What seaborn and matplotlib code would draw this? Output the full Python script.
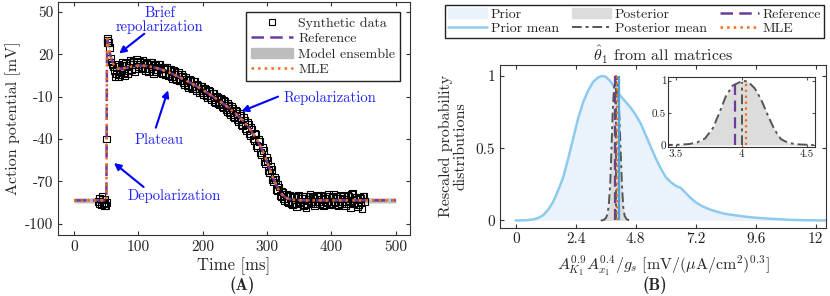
import numpy as np
import pandas as pd
import matplotlib
matplotlib.use('Agg')
import matplotlib.pyplot as plt
import seaborn as sns
from matplotlib.patches import Patch
from matplotlib.lines import Line2D

# ---- panel A: action potential ----
ref_t = [0, 45, 49.5, 50.2, 50.6, 51.0, 51.5, 52.5, 54, 56,
         58, 61, 64, 68, 72, 80, 90, 100, 110, 120,
         130, 140, 150, 160, 170, 180, 190, 200, 210, 220,
         230, 240, 250, 260, 270, 280, 290, 295, 300, 305,
         310, 315, 320, 325, 330, 335, 340, 350, 360, 380, 500]
ref_v = [-83.5, -83.5, -83.5, -82, -40, 10, 31, 29, 25, 20,
         16.5, 13, 11, 9.8, 9.6, 10.3, 11.4, 12, 11.8, 11.1,
         10, 8.5, 6.7, 4.6, 2.3, 0, -2.5, -5.2, -8.2, -11.2,
         -14.4, -17.8, -21.6, -26, -31, -37.5, -45.5, -50.5, -56.5, -62.5,
         -68.5, -73.5, -77.5, -80.2, -81.8, -82.6, -83, -83.3, -83.5, -83.5, -83.5]
mle_v = list(ref_v)
ens_halfwidth = 1.8

spike_t = [38, 39.5, 40, 42, 43.5, 44, 46, 47, 48, 49, 50, 50.8, 51.3, 51.8, 52]
spike_v = [-84, -86, -82, -86.5, -81, -83, -85.5, -87.5, -82.5, -87, -85, -40, 31, 29.5, 28.5]
grid_t = np.arange(53, 453, 3)
grid_v = [28.5, 17, 13, 8.5, 6, 13, 5.5, 12, 7, 13.5,
          6.5, 14, 9, 15, 10, 14.5, 13, 9.5, 15.5, 10,
          13.5, 7.5, 14, 11, 13, 8, 12.5, 11, 6.5, 11,
          9.5, 5, 9, 4.5, 8.5, 3, 6, 1.5, 5.5, 0,
          3.5, -2, 2.5, -3, 0.5, -4.5, -1, -6, -2.5, -7.5,
          -4, -9.5, -5.5, -11, -7.5, -13.5, -9.5, -15, -11, -17,
          -12.5, -19, -15, -21.5, -17, -24, -19.5, -26.5, -22, -29.5,
          -25, -33, -28.5, -36.5, -32, -40, -36, -44.5, -40.5, -49.5,
          -46, -56, -53, -62.5, -59.5, -69, -67, -75.5, -72.5, -80,
          -77, -82.5, -79, -84.5, -80, -85.5, -81, -86, -80.5, -85,
          -82, -87.5, -81, -86, -80.5, -85.5, -82, -87, -81, -84.5,
          -80, -86.5, -82, -85, -79.5, -86, -81.5, -84, -80.5, -86.5,
          -82, -85.5, -81, -87, -80, -84.5, -79, -86, -82.5, -88,
          -81.5, -85, -80.5, -84]
grid2_t = np.arange(54.5, 452, 3)
grid2_v = [25, 14.5, 11, 4.5, 11.5, 4, 8, 14, 5, 12,
           8.5, 15.5, 12.5, 8, 16, 11, 15, 10.5, 14, 8.5,
           13, 10, 14.5, 6.5, 12, 9, 13, 7, 10, 5.5,
           10.5, 6, 9.5, 3, 7.5, 2, 7, 1, 4, -1.5,
           2, -3.5, 1.5, -4, 0.5, -5.5, -2, -7, -3, -8.5,
           -5, -10.5, -6, -12, -8, -14.5, -10.5, -16, -12, -18,
           -13.5, -20.5, -16, -22.5, -18, -25, -20.5, -27.5, -23, -30.5,
           -26.5, -34, -29.5, -37.5, -33, -41.5, -37, -46, -42, -51,
           -48, -57.5, -55, -64, -61.5, -70.5, -68.5, -76.5, -74, -81,
           -77.5, -83.5, -79, -85, -80.5, -86.5, -81.5, -88, -80, -84.5,
           -81, -86.5, -88.5, -82.5, -79.5, -84.5, -81.5, -86, -80, -85.5,
           -82.5, -87.5, -80.5, -84, -81, -86.5, -79.5, -85, -82, -87,
           -80, -84.5, -82.5, -86, -81, -88.5, -78.5, -85, -81.5, -86.5,
           -82, -89, -81]

# ---- panel B: distributions ----
prior_x = [0, 0.4, 0.7, 0.9, 1.1, 1.3, 1.5, 1.7, 1.9, 2.1,
           2.3, 2.5, 2.7, 2.9, 3.1, 3.3, 3.45, 3.6, 3.8, 4.0,
           4.2, 4.4, 4.6, 4.8, 5.0, 5.2, 5.4, 5.6, 5.8, 6.0,
           6.2, 6.4, 6.6, 6.8, 7.0, 7.2, 7.5, 7.8, 8.1, 8.4,
           8.8, 9.2, 9.6, 10.0, 10.5, 11.0, 11.5, 12.0, 12.4]
prior_y = [0.0, 0.001, 0.007, 0.018, 0.037, 0.075, 0.13, 0.21, 0.30, 0.43,
           0.57, 0.71, 0.82, 0.90, 0.96, 0.99, 1.0, 0.995, 0.96, 0.91,
           0.86, 0.82, 0.78, 0.73, 0.67, 0.59, 0.51, 0.43, 0.36, 0.30,
           0.265, 0.24, 0.225, 0.19, 0.155, 0.125, 0.095, 0.074, 0.058, 0.045,
           0.035, 0.026, 0.019, 0.014, 0.009, 0.004, 0.002, 0.001, 0.0]
post_x = [3.40, 3.50, 3.60, 3.66, 3.72, 3.78, 3.83, 3.88, 3.93, 3.97,
          4.01, 4.05, 4.10, 4.15, 4.20, 4.25, 4.30, 4.36, 4.44, 4.55]
post_y = [0.0, 0.002, 0.015, 0.04, 0.10, 0.26, 0.50, 0.76, 0.92, 0.96,
          1.0, 0.98, 0.88, 0.70, 0.46, 0.24, 0.09, 0.03, 0.008, 0.0]
prior_mean = 4.13
ref_val, post_mean, mle_val = 3.95, 4.0, 4.03
inset_heights = [0.93, 0.98, 1.0]

c_ref = '#6a3d9a'
c_mle = '#f26b1d'
c_prior = '#8ecaee'
c_prior_fill = '#eaf3fb'
c_prior_mean = '#4aa3df'
c_post = '#dcdcdc'
c_post_line = '#555555'
c_note = '#2020ff'

sns.set_style('ticks')
plt.rcParams['font.family'] = ['cmr10', 'DejaVu Serif']
plt.rcParams['mathtext.fontset'] = 'cm'
plt.rcParams['axes.unicode_minus'] = False
plt.rcParams['axes.formatter.use_mathtext'] = False
plt.rcParams['xtick.direction'] = 'in'
plt.rcParams['ytick.direction'] = 'in'
plt.rcParams['axes.edgecolor'] = '#333333'
plt.rcParams['axes.linewidth'] = 0.8

fig = plt.figure(figsize=(8.3, 2.96), dpi=100)
W, H = 830, 296
axA = fig.add_axes([58 / W, 1 - 235 / H, 352 / W, 233 / H])
axB = fig.add_axes([500 / W, 1 - 227.7 / H, 326 / W, 162.7 / H])
axI = fig.add_axes([668.3 / W, 1 - 147.3 / H, 146.7 / W, 70.6 / H])

# panel A
rt = np.array(ref_t)
rv = np.array(ref_v)
axA.fill_between(rt, rv - ens_halfwidth, rv + ens_halfwidth, color='#bdbdbd', lw=0, zorder=1)
data = pd.DataFrame({'t': list(spike_t) + list(grid_t) + list(grid2_t),
                     'v': list(spike_v) + list(grid_v) + list(grid2_v)})
sns.scatterplot(data=data, x='t', y='v', marker='s', s=24, facecolor='none',
                edgecolor='black', linewidth=0.8, ax=axA, zorder=2)
sns.lineplot(x=ref_t, y=ref_v, color=c_ref, lw=1.8, dashes=(5, 2.5), sort=False,
             estimator=None, ax=axA, zorder=3)
sns.lineplot(x=ref_t, y=mle_v, color=c_mle, lw=1.8, linestyle=':', sort=False,
             estimator=None, ax=axA, zorder=4)
axA.set_xlim(-25, 522)
axA.set_ylim(-108, 57)
axA.set_xticks([0, 100, 200, 300, 400, 500])
axA.set_yticks([-100, -70, -40, -10, 20, 50])
axA.set_yticklabels(['-100', '-70', '-40', '-10', '20', '50'])
axA.tick_params(labelsize=11, top=True, right=True, length=3, colors='#333333', labelcolor='#222222')
axA.set_xlabel('Time [ms]', fontsize=12, labelpad=3)
axA.set_ylabel('Action potential [mV]', fontsize=11.5, labelpad=3)

notes = [('Brief\nrepolarization', (133, 44), (109, 34.5), (70, 20.5)),
         ('Plateau', (132, -40.5), (127, -32), (146, -5.5)),
         ('Repolarization', (397, -11), (317, -10), (260, -20.5)),
         ('Depolarization', (155, -80.5), (108, -74), (62, -57))]
for label, pos, tail, tip in notes:
    axA.text(pos[0], pos[1], label, color=c_note, fontsize=10.5, ha='center', va='center',
             linespacing=1.0)
    axA.annotate('', xy=tip, xytext=tail,
                 arrowprops=dict(arrowstyle='-|>', color='#0000ff', lw=1.5,
                                 mutation_scale=10, shrinkA=0, shrinkB=0))

hA = [Line2D([], [], ls='none', marker='s', mfc='none', mec='black', ms=5, mew=0.8),
      Line2D([], [], color=c_ref, lw=1.8, dashes=(5, 2.5)),
      Patch(color='#bdbdbd'),
      Line2D([], [], color=c_mle, lw=1.8, ls=':')]
axA.legend(hA, ['Synthetic data', 'Reference', 'Model ensemble', 'MLE'], loc='upper right',
           bbox_to_anchor=(0.972, 0.957), borderaxespad=0, fancybox=False, framealpha=1,
           edgecolor='#222222', fontsize=10, handlelength=3.0, handletextpad=0.4,
           labelspacing=0.2, borderpad=0.35)
fig.text(241.7 / W, 1 - 285.7 / H, '(A)', family='cmb10', fontsize=12, ha='center', va='center')

# panel B
axB.fill_between(prior_x, 0, prior_y, color=c_prior_fill, lw=0, zorder=1)
sns.lineplot(x=prior_x, y=prior_y, color=c_prior, lw=1.8, sort=False, estimator=None, ax=axB, zorder=2)
axB.fill_between(post_x, 0, post_y, color=c_post, lw=0, zorder=3)
sns.lineplot(x=post_x, y=post_y, color=c_post_line, lw=1.4, dashes=(5, 2, 1.5, 2), sort=False,
             estimator=None, ax=axB, zorder=4)
axB.vlines(prior_mean, 0, 1, color=c_prior_mean, lw=1.6, zorder=5)
axB.vlines(ref_val, 0, 1, color=c_ref, lw=1.6, linestyles=(0, (5, 2.5)), zorder=6)
axB.vlines(post_mean, 0, 1, color=c_post_line, lw=1.4, linestyles=(0, (5, 2, 1.5, 2)), zorder=6)
axB.vlines(mle_val, 0, 1, color=c_mle, lw=1.6, linestyles=':', zorder=7)
axB.set_xlim(-0.63, 12.41)
axB.set_ylim(-0.05, 1.076)
axB.set_xticks([0, 2.4, 4.8, 7.2, 9.6, 12])
axB.set_xticklabels(['0', '2.4', '4.8', '7.2', '9.6', '12'])
axB.set_yticks([0, 0.5, 1])
axB.set_yticklabels(['0', '0.5', '1'])
axB.tick_params(labelsize=11, top=True, right=True, length=3, colors='#333333', labelcolor='#222222')
axB.set_title(r'$\hat{\theta}_1$ from all matrices', fontsize=11.5, pad=3)
axB.set_xlabel(r'$A_{K_1}^{0.9}A_{x_1}^{0.4}/g_s\ [\mathrm{mV}/(\mu\mathrm{A}/\mathrm{cm}^2)^{0.3}]$',
               fontsize=11.5, labelpad=5)
axB.set_ylabel('Rescaled probability\ndistributions', fontsize=11.5, labelpad=6, linespacing=1.1)
fig.text(655 / W, 1 - 285.7 / H, '(B)', family='cmb10', fontsize=12, ha='center', va='center')

# inset
axI.fill_between(post_x, 0, post_y, color=c_post, lw=0, zorder=1)
sns.lineplot(x=post_x, y=post_y, color=c_post_line, lw=1.4, dashes=(5, 2, 1.5, 2), sort=False,
             estimator=None, ax=axI, zorder=2)
axI.vlines(ref_val, 0, inset_heights[0], color=c_ref, lw=1.6, linestyles=(0, (5, 2.5)), zorder=3)
axI.vlines(post_mean, 0, inset_heights[1], color=c_post_line, lw=1.4, linestyles=(0, (5, 2, 1.5, 2)), zorder=3)
axI.vlines(mle_val, 0, inset_heights[2], color=c_mle, lw=1.6, linestyles=':', zorder=4)
axI.set_xlim(3.44, 4.56)
axI.set_ylim(-0.036, 1.06)
axI.set_xticks([3.5, 4, 4.5])
axI.set_xticklabels(['3.5', '4', '4.5'])
axI.set_yticks([0, 0.5, 1])
axI.set_yticklabels(['0', '0.5', '1'])
axI.tick_params(labelsize=8, top=True, right=True, length=2, pad=1.5, colors='#555555', labelcolor='#222222')
axI.set_xlabel('')
axI.set_ylabel('')

hB = [Patch(color=c_prior_fill), Line2D([], [], color=c_prior, lw=1.8),
      Patch(color=c_post), Line2D([], [], color=c_post_line, lw=1.4, dashes=(5, 2, 1.5, 2)),
      Line2D([], [], color=c_ref, lw=1.8, dashes=(5, 2.5)), Line2D([], [], color=c_mle, lw=1.8, ls=':')]
fig.legend(hB, ['Prior', 'Prior mean', 'Posterior', 'Posterior mean', 'Reference', 'MLE'],
           ncol=3, loc='center', mode='expand',
           bbox_to_anchor=(445 / W, 1 - 40.7 / H, 379 / W, 38.7 / H), borderaxespad=0,
           fancybox=False, framealpha=1, edgecolor='#222222', fontsize=10,
           handlelength=2.8, handletextpad=0.3, columnspacing=0.4, labelspacing=0.1,
           borderpad=0.2)

fig.savefig('out.png', dpi=100)
